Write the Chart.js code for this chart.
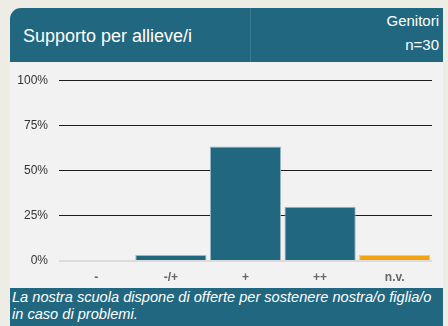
<!DOCTYPE html>
<html>
<head>
<meta charset="utf-8">
<script src="https://cdn.jsdelivr.net/npm/chart.js@4"></script>
<style>
  html, body { margin: 0; padding: 0; }
  body { width: 448px; height: 326px; background: #edece5; position: relative; overflow: hidden; font-family: "Liberation Sans", Arial, sans-serif; }
  .card { position: absolute; left: 10px; top: 8px; width: 433px; }
  .head { position: relative; height: 54px; background: #21677f; border-top-left-radius: 11px; color: #fff; }
  .head .divider { position: absolute; left: 240px; top: 0; bottom: 0; width: 1px; background: #3b7a90; }
  .head h1 { position: absolute; left: 13px; top: 18px; margin: 0; font-size: 18px; font-weight: normal; }
  .head .group { position: absolute; right: 4px; top: 4px; font-size: 15px; }
  .head .n { position: absolute; right: 4px; top: 28px; font-size: 15px; }
  .plot { height: 226px; background: #f2f2f2; }
  .plot canvas { display: block; }
  .foot { height: 40px; background: #21677f; color: #fff; font-style: italic; font-size: 14.6px; line-height: 17px; padding: 1px 0 0 2px; box-sizing: border-box; }
</style>
</head>
<body>
<div class="card">
  <div class="head">
    <div class="divider"></div>
    <h1>Supporto per allieve/i</h1>
    <div class="group">Genitori</div>
    <div class="n">n=30</div>
  </div>
  <div class="plot"><canvas id="chart" width="433" height="226"></canvas></div>
  <div class="foot">La nostra scuola dispone di offerte per sostenere nostra/o figlia/o in caso di problemi.</div>
</div>
<script>
// answer categories and share of respondents (%)
const categories = ['-', '-/+', '+', '++', 'n.v.'];
const shares = [0, 3.33, 63.33, 30, 3.33];
const yTicks = [0, 25, 50, 75, 100];

const barColors = categories.map(c => c === 'n.v.' ? '#f2a30f' : '#21677f');
const barBorders = categories.map(c => c === 'n.v.' ? '#f6c871' : '#9db8c3');

const ctx = document.getElementById('chart').getContext('2d');
new Chart(ctx, {
  type: 'bar',
  data: {
    labels: categories,
    datasets: [{
      data: shares,
      backgroundColor: barColors,
      borderColor: barBorders,
      borderWidth: 1,
      categoryPercentage: 1,
      barPercentage: 0.955
    }]
  },
  options: {
    responsive: false,
    animation: false,
    layout: { padding: { top: 13, right: 11, left: 0, bottom: 0 } },
    plugins: { legend: { display: false }, tooltip: { enabled: false } },
    scales: {
      x: {
        grid: { display: false, drawTicks: false },
        border: { display: false },
        ticks: { color: '#666', font: { family: 'Liberation Sans', size: 12, weight: 'bold' }, padding: 9 },
        afterFit: s => { s.height = 27; }
      },
      y: {
        min: 0,
        max: 100,
        afterBuildTicks: s => { s.ticks = yTicks.map(v => ({ value: v })); },
        border: { display: false },
        grid: {
          drawTicks: false,
          color: c => c.tick && c.tick.value === 0 ? '#dcdcdc' : '#1e1e1e',
          lineWidth: c => c.tick && c.tick.value === 0 ? 2 : 1
        },
        ticks: {
          color: '#333',
          font: { family: 'Liberation Sans', size: 12 },
          padding: 11,
          callback: v => v + '%'
        },
        afterFit: s => { s.width = 49; }
      }
    }
  }
});
</script>
</body>
</html>
